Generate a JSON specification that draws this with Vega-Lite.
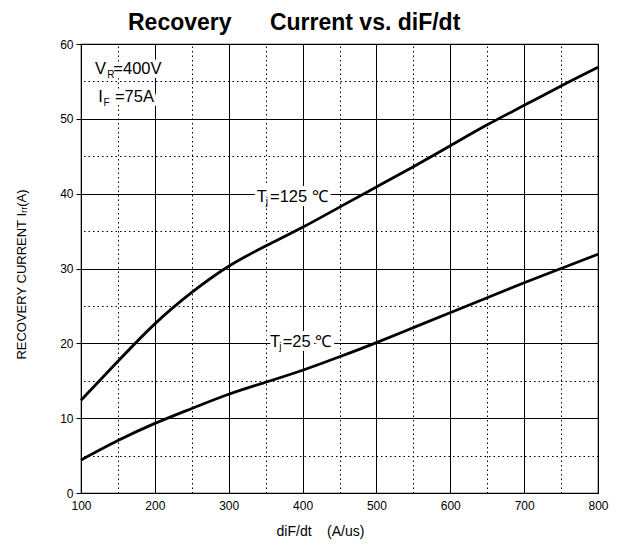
{
  "$schema": "https://vega.github.io/schema/vega-lite/v6.json",
  "width": 517,
  "height": 449,
  "autosize": "none",
  "padding": {"left": 81, "top": 44, "right": 19, "bottom": 56},
  "background": "white",
  "config": {
    "font": "Liberation Sans",
    "view": {"stroke": "black", "strokeWidth": 1.2}
  },
  "title": {
    "text": "Recovery\u00a0\u00a0\u00a0\u00a0\u00a0\u00a0Current vs. diF/dt",
    "fontSize": 23,
    "fontWeight": "bold",
    "anchor": "start",
    "frame": "group",
    "dx": 47,
    "dy": 27,
    "offset": 12,
    "baseline": "alphabetic",
    "color": "#000"
  },
  "datasets": {
    "curves": [
      {"tj": "125", "di": 100, "irr": 12.4},
      {"tj": "125", "di": 150, "irr": 17.6},
      {"tj": "125", "di": 200, "irr": 22.6},
      {"tj": "125", "di": 250, "irr": 26.8},
      {"tj": "125", "di": 300, "irr": 30.3},
      {"tj": "125", "di": 350, "irr": 33.0},
      {"tj": "125", "di": 400, "irr": 35.5},
      {"tj": "125", "di": 450, "irr": 38.2},
      {"tj": "125", "di": 500, "irr": 40.9},
      {"tj": "125", "di": 550, "irr": 43.6},
      {"tj": "125", "di": 600, "irr": 46.4},
      {"tj": "125", "di": 650, "irr": 49.2},
      {"tj": "125", "di": 700, "irr": 51.8},
      {"tj": "125", "di": 750, "irr": 54.4},
      {"tj": "125", "di": 800, "irr": 56.9},
      {"tj": "25", "di": 100, "irr": 4.4},
      {"tj": "25", "di": 150, "irr": 7.0},
      {"tj": "25", "di": 200, "irr": 9.3},
      {"tj": "25", "di": 250, "irr": 11.3},
      {"tj": "25", "di": 300, "irr": 13.2},
      {"tj": "25", "di": 350, "irr": 14.8},
      {"tj": "25", "di": 400, "irr": 16.4},
      {"tj": "25", "di": 450, "irr": 18.2},
      {"tj": "25", "di": 500, "irr": 20.1},
      {"tj": "25", "di": 550, "irr": 22.1},
      {"tj": "25", "di": 600, "irr": 24.1},
      {"tj": "25", "di": 650, "irr": 26.1},
      {"tj": "25", "di": 700, "irr": 28.1},
      {"tj": "25", "di": 750, "irr": 30.0},
      {"tj": "25", "di": 800, "irr": 31.9}
    ],
    "labels": [
      {"t": "V", "x": 119, "y": 56.7},
      {"t": "=400V", "x": 143.8, "y": 56.7},
      {"t": "I", "x": 123.5, "y": 52.9},
      {"t": "=75A", "x": 146, "y": 52.9},
      {"t": "T", "x": 337.9, "y": 39.6},
      {"t": "=125 ℃", "x": 355.9, "y": 39.6},
      {"t": "T", "x": 355.9, "y": 20.2},
      {"t": "=25 ℃", "x": 373, "y": 20.2}
    ],
    "subs": [
      {"t": "R", "x": 135.6, "y": 55.9},
      {"t": "F", "x": 130.3, "y": 52.1},
      {"t": "j", "x": 350, "y": 38.9},
      {"t": "j", "x": 368.5, "y": 19.55}
    ]
  },
  "resolve": {"axis": {"x": "independent", "y": "independent"}},
  "layer": [
    {
      "data": {"name": "curves"},
      "mark": {"type": "point", "opacity": 0},
      "encoding": {
        "x": {"field": "di", "type": "quantitative", "scale": {"domain": [100, 800], "nice": false},
          "axis": {"orient": "top", "values": [150, 250, 350, 450, 550, 650, 750], "grid": true, "gridColor": "#000", "gridWidth": 1, "gridDash": [1.5, 3], "labels": false, "ticks": false, "domain": false, "title": null}},
        "y": {"field": "irr", "type": "quantitative", "scale": {"domain": [0, 60], "nice": false},
          "axis": {"orient": "right", "values": [5, 15, 25, 35, 45, 55], "grid": true, "gridColor": "#000", "gridWidth": 1, "gridDash": [1.5, 3], "labels": false, "ticks": false, "domain": false, "title": null}}
      }
    },
    {
      "data": {"name": "labels"},
      "mark": {"type": "text", "align": "left", "baseline": "middle", "fontSize": 16.5, "fill": "white", "stroke": "white", "strokeWidth": 8, "strokeJoin": "round"},
      "encoding": {
        "x": {"field": "x", "type": "quantitative", "scale": {"domain": [100, 800], "nice": false}, "axis": null},
        "y": {"field": "y", "type": "quantitative", "scale": {"domain": [0, 60], "nice": false}, "axis": null},
        "text": {"field": "t"}
      }
    },
    {
      "data": {"name": "labels"},
      "mark": {"type": "text", "align": "left", "baseline": "middle", "fontSize": 16.5, "color": "black"},
      "encoding": {
        "x": {"field": "x", "type": "quantitative", "scale": {"domain": [100, 800], "nice": false}, "axis": null},
        "y": {"field": "y", "type": "quantitative", "scale": {"domain": [0, 60], "nice": false}, "axis": null},
        "text": {"field": "t"}
      }
    },
    {
      "data": {"name": "subs"},
      "mark": {"type": "text", "align": "left", "baseline": "middle", "fontSize": 10, "color": "black"},
      "encoding": {
        "x": {"field": "x", "type": "quantitative", "scale": {"domain": [100, 800], "nice": false}, "axis": null},
        "y": {"field": "y", "type": "quantitative", "scale": {"domain": [0, 60], "nice": false}, "axis": null},
        "text": {"field": "t"}
      }
    },
    {
      "data": {"name": "curves"},
      "mark": {"type": "line", "color": "black", "strokeWidth": 2.8, "interpolate": "natural"},
      "encoding": {
        "x": {"field": "di", "type": "quantitative", "scale": {"domain": [100, 800], "nice": false},
          "axis": {"orient": "bottom", "values": [100, 200, 300, 400, 500, 600, 700, 800], "grid": true, "gridColor": "#000", "gridWidth": 1, "ticks": false, "domain": false, "labelFlush": false, "labelPadding": 7, "labelFontSize": 12, "labelColor": "#000",
            "title": "diF/dt\u00a0\u00a0\u00a0\u00a0(A/us)", "titleFontSize": 14, "titleFontWeight": "normal", "titleColor": "#000", "titleX": 239, "titleY": 38.7, "titleBaseline": "middle"}},
        "y": {"field": "irr", "type": "quantitative", "scale": {"domain": [0, 60], "nice": false},
          "axis": {"orient": "left", "values": [0, 10, 20, 30, 40, 50, 60], "grid": true, "gridColor": "#000", "gridWidth": 1, "ticks": true, "tickSize": 5, "tickColor": "#000", "domain": false, "labelPadding": 3, "labelFontSize": 12, "labelColor": "#000",
            "title": "RECOVERY CURRENT Iᵣᵣ(A)", "titleFontSize": 13, "titleFontWeight": "normal", "titleColor": "#000", "titleX": -60, "titleY": 230, "titleBaseline": "middle", "titleAngle": 270}},
        "detail": {"field": "tj"}
      }
    }
  ]
}
